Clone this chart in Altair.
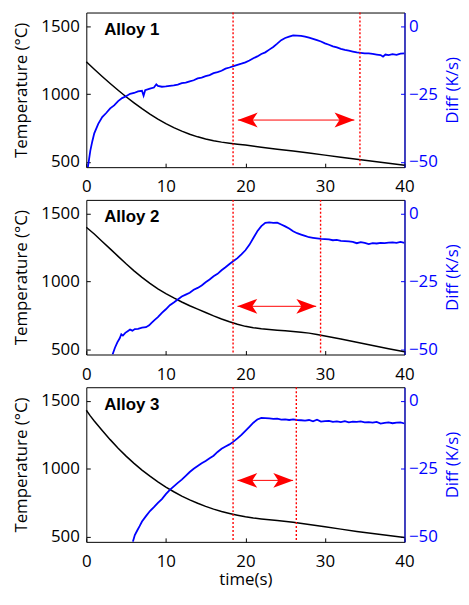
import altair as alt
import pandas as pd

FONT = "Open Sans"

alloys = ["Alloy 1", "Alloy 2", "Alloy 3"]

# ---------------- temperature curves (°C) ----------------
temp_t_1 = [0, 1, 2, 3, 4, 5, 6, 7, 8, 9, 10, 11, 12, 13, 14, 15, 16, 17, 18, 19, 20,
            22, 24, 26, 28, 30, 32, 34, 36, 38, 40]
temp_1 = [1238, 1183, 1130, 1078, 1028, 980, 935, 892, 852, 815, 781, 752, 726, 703, 684,
          668, 655, 645, 637, 630, 623, 607, 593, 579, 564, 549, 534, 519, 504, 489, 475]

temp_t_2 = [0, 1, 2, 3, 4, 5, 6, 7, 8, 9, 10, 11, 12, 13, 14, 15, 16, 17, 18, 19, 20, 21,
            22, 23, 24, 25, 26, 27, 28, 29, 30, 32, 34, 36, 38, 40]
temp_2 = [1400, 1350, 1295, 1240, 1185, 1130, 1078, 1030, 985, 945, 910, 878, 848, 820, 795,
          770, 745, 722, 702, 684, 668, 658, 650, 645, 640, 635, 630, 625, 618, 608, 597,
          575, 550, 527, 503, 480]

temp_t_3 = [0, 0.5, 1, 2, 3, 4, 5, 6, 7, 8, 9, 10, 11, 12, 13, 14, 15, 16, 17, 18, 19, 20,
            21, 22, 24, 26, 28, 30, 32, 34, 36, 38, 40]
temp_3 = [1432, 1390, 1352, 1282, 1215, 1152, 1093, 1040, 990, 945, 903, 865, 830, 798, 770,
          745, 722, 702, 684, 670, 657, 645, 636, 629, 617, 604, 588, 571, 554, 537, 522,
          507, 492]

# ---------------- differential curves (K/s) ----------------
diff_t_1 = [0.2, 0.5, 0.75, 1.0, 1.5, 2.0, 2.5, 3.0, 3.5, 4.0, 4.5, 5.0, 5.5, 6.0, 6.5, 7.0,
            7.2, 7.4, 8.0, 8.5, 8.8, 9.0, 9.5, 10, 10.5, 11, 11.5, 12, 12.5, 13, 13.5, 14,
            14.5, 15, 15.5, 16, 16.5, 17, 17.5, 18, 18.5, 19, 19.5, 20, 20.5, 21, 21.5, 22,
            22.5, 23, 23.5, 24, 24.5, 25, 25.5, 26, 26.5, 27, 27.5, 28, 28.5, 29, 29.5, 30,
            30.5, 31, 31.5, 32, 32.5, 33, 33.5, 34, 34.5, 35, 35.5, 36, 36.5, 37, 37.3, 37.6,
            38, 38.5, 39, 39.5, 40]
diff_1 = [-52, -46, -42.5, -39.5, -36, -33.5, -32, -30.3, -29.2, -27.6, -26.5, -25.8, -24.9,
          -24.6, -24.0, -23.8, -25.6, -23.6, -23.0, -22.6, -21.4, -22.0, -22.3, -22.2, -22.0,
          -21.8, -21.5, -21.0, -20.8, -20.3, -19.9, -19.2, -18.9, -18.4, -18.0, -17.3, -16.9,
          -16.4, -15.6, -15.2, -14.7, -14.2, -13.8, -13.3, -12.6, -11.8, -11.1, -10.2, -9.6,
          -8.6, -7.6, -6.4, -5.1, -4.3, -3.8, -3.3, -3.4, -3.5, -3.8, -4.2, -4.6, -5.1, -5.6,
          -6.3, -6.8, -7.4, -7.8, -8.3, -8.7, -9.0, -9.3, -9.6, -9.8, -10.0, -10.0, -10.2,
          -10.4, -10.6, -11.2, -10.4, -10.6, -10.3, -10.5, -10.1, -10.0]

diff_t_2 = [3.3, 3.6, 3.9, 4.2, 4.4, 4.6, 4.9, 5.2, 5.5, 5.8, 6.1, 6.5, 7.0, 7.5, 7.9, 8.2,
            8.6, 9.0, 9.5, 10, 10.5, 11, 11.5, 12, 12.5, 13, 13.5, 14, 14.5, 15, 15.5, 16,
            16.5, 17, 17.5, 18, 18.5, 19, 19.5, 20, 20.5, 21, 21.5, 22, 22.5, 23, 23.5, 24,
            24.5, 25, 25.5, 26, 26.5, 27, 27.5, 28, 28.5, 29, 29.5, 30, 30.5, 31, 31.5, 32,
            32.5, 33, 33.5, 34, 34.5, 35, 35.5, 36, 36.5, 37, 37.5, 38, 38.5, 39, 39.5, 40]
diff_2 = [-52, -49.5, -47.5, -46, -44.5, -45, -44, -43.4, -42.8, -43.2, -42.6, -42.5, -42.1,
          -41.9, -41.2, -40.3, -39.2, -38.2, -36.6, -35.3, -33.8, -32.8, -31.7, -30.6, -29.9,
          -29.2, -28.1, -27.4, -26.5, -25.3, -24.3, -23.1, -22.2, -20.9, -19.8, -18.6, -17.5,
          -16.4, -15.0, -13.5, -11.5, -9.0, -6.5, -4.6, -3.4, -3.2, -3.4, -3.3, -4.0, -4.7,
          -5.5, -6.5, -7.2, -7.7, -8.2, -8.7, -8.9, -9.1, -9.3, -9.4, -9.5, -9.8, -9.7, -10.0,
          -10.1, -10.2, -10.4, -10.9, -10.5, -10.8, -11.2, -10.9, -11.0, -10.8, -10.9, -10.7,
          -10.6, -10.8, -10.4, -10.8]

diff_t_3 = [5.85, 6.1, 6.4, 6.7, 7.0, 7.5, 8.0, 8.5, 9.0, 9.5, 10, 10.5, 11, 11.5, 12, 12.5,
            13, 13.5, 14, 14.5, 15, 15.5, 16, 16.5, 17, 17.5, 18, 18.5, 19, 19.5, 20, 20.5,
            21, 21.5, 22, 22.5, 23, 23.5, 24, 24.5, 25, 25.5, 26, 26.5, 27, 27.5, 28, 28.5,
            29, 29.5, 30, 30.5, 31, 31.5, 32, 32.5, 33, 33.5, 34, 34.5, 35, 35.5, 36, 36.5,
            37, 37.5, 38, 38.5, 39, 39.5, 40]
diff_3 = [-52, -49.5, -47.8, -46.2, -44.5, -42.5, -40.6, -39.2, -37.6, -36.2, -34.4, -32.8,
          -31.5, -30.2, -29.0, -27.6, -26.2, -25.0, -24.0, -23.0, -22.1, -21.1, -20.2, -18.8,
          -17.6, -16.8, -16.0, -15.0, -13.8, -12.5, -11.0, -9.5, -8.0, -6.8, -6.2, -6.3, -6.4,
          -6.6, -6.5, -6.9, -6.8, -7.0, -6.8, -7.0, -7.1, -7.2, -7.0, -7.5, -6.9, -7.6, -7.4,
          -7.3, -7.7, -7.5, -7.8, -7.4, -7.9, -7.6, -7.7, -7.5, -7.9, -7.8, -8.0, -7.7, -8.3,
          -8.1, -7.9, -8.2, -8.0, -7.9, -8.3]

temp_times = [temp_t_1, temp_t_2, temp_t_3]
temp_vals = [temp_1, temp_2, temp_3]
diff_times = [diff_t_1, diff_t_2, diff_t_3]
diff_vals = [diff_1, diff_2, diff_3]

# ---------------- annotations ----------------
zone_start = [18.45, 18.45, 18.45]
zone_end = [34.4, 29.45, 26.4]
arrow_from = [19.05, 19.0, 19.0]
arrow_to = [33.7, 28.9, 26.0]
arrow_level = [-34.6, -34.2, -29.3]

x_ticks = [0, 10, 20, 30, 40]
temp_ticks = [500, 1000, 1500]
diff_ticks = [-50, -25, 0]

W, H = 321, 156
TEMP_DOM = [460, 1602]
DIFF_DOM = [-52.0, 5.1]
INWARD = {"expr": "-4"}
LEFT_HEAD = "M0,0L2,-0.75L1.5,0L2,0.75Z"
RIGHT_HEAD = "M0,0L-2,-0.75L-1.5,0L-2,0.75Z"


def make_panel(i, last):
    xs = alt.Scale(domain=[0, 40], nice=False, zero=False)
    ts = alt.Scale(domain=TEMP_DOM, nice=False, zero=False)
    ds = alt.Scale(domain=DIFF_DOM, nice=False, zero=False)

    x_bottom = alt.Axis(orient="bottom", values=x_ticks, tickSize=INWARD, tickColor="black",
                        domain=False, labelPadding=16, labelColor="black",
                        title="time(s)" if last else None, titlePadding=2,
                        titleColor="black", format="d")
    y_left = alt.Axis(orient="left", values=temp_ticks, tickSize=INWARD, tickColor="black",
                      domain=False, labelPadding=11, labelColor="black", format="d",
                      title="Temperature (°C)", titlePadding=10, titleColor="black")
    y_right = alt.Axis(orient="right", values=diff_ticks, tickSize=INWARD, tickColor="blue",
                       domain=True, domainColor="blue", domainWidth=1, labelPadding=8,
                       labelColor="blue", title="Diff (K/s)", titleColor="blue", format="d",
                       titleAngle=270, titleBaseline="top", titlePadding=7)

    tdf = pd.DataFrame({"t": temp_times[i], "temp": temp_vals[i]})
    ddf = pd.DataFrame({"t": diff_times[i], "diff": diff_vals[i]})
    vdf = pd.DataFrame({"t": [zone_start[i], zone_end[i]]})
    adf = pd.DataFrame({"a": [arrow_from[i]], "b": [arrow_to[i]], "lvl": [arrow_level[i]]})
    ldf = pd.DataFrame({"name": [alloys[i]]})

    temp_line = alt.Chart(tdf).mark_line(color="black", strokeWidth=1.5).encode(
        x=alt.X("t:Q", scale=xs, axis=x_bottom),
        y=alt.Y("temp:Q", scale=ts, axis=y_left),
    )
    diff_line = alt.Chart(ddf).mark_line(color="blue", strokeWidth=1.8, clip=True).encode(
        x=alt.X("t:Q", scale=xs, axis=None),
        y=alt.Y("diff:Q", scale=ds, axis=y_right),
    )
    vlines = alt.Chart(vdf).mark_rule(color="red", strokeDash=[2, 2], strokeWidth=1.4).encode(
        x=alt.X("t:Q", scale=xs, axis=None),
    )
    shaft = alt.Chart(adf).mark_rule(color="red", strokeWidth=1).encode(
        x=alt.X("a:Q", scale=xs, axis=None),
        x2="b:Q",
        y=alt.Y("lvl:Q", scale=ds, axis=None),
    )
    head_l = alt.Chart(adf).mark_point(shape=LEFT_HEAD, filled=True, size=400, color="red",
                                       opacity=1, strokeWidth=0).encode(
        x=alt.X("a:Q", scale=xs, axis=None),
        y=alt.Y("lvl:Q", scale=ds, axis=None),
    )
    head_r = alt.Chart(adf).mark_point(shape=RIGHT_HEAD, filled=True, size=400, color="red",
                                       opacity=1, strokeWidth=0).encode(
        x=alt.X("b:Q", scale=xs, axis=None),
        y=alt.Y("lvl:Q", scale=ds, axis=None),
    )
    label = alt.Chart(ldf).mark_text(font="Liberation Sans", fontWeight="bold", fontSize=17,
                                     align="left", baseline="middle", color="black").encode(
        x=alt.value(18), y=alt.value(17.5), text="name:N"
    )
    return alt.layer(temp_line, diff_line, vlines, shaft, head_l, head_r, label).resolve_scale(
        y="independent").resolve_axis(x="independent").properties(width=W, height=H)


chart = alt.vconcat(make_panel(0, False), make_panel(1, False), make_panel(2, True),
                    spacing=2).properties(
    padding={"left": 4, "right": 0, "top": 0, "bottom": 0}
).configure_view(stroke="black", strokeWidth=1).configure_axis(
    labelFont=FONT, titleFont=FONT, labelFontSize=17, titleFontSize=17,
    titleFontWeight="normal", grid=False, labelFlush=False, labelOverlap=False
)

chart.save("out.html", embed_options={"renderer": "svg", "actions": False})
